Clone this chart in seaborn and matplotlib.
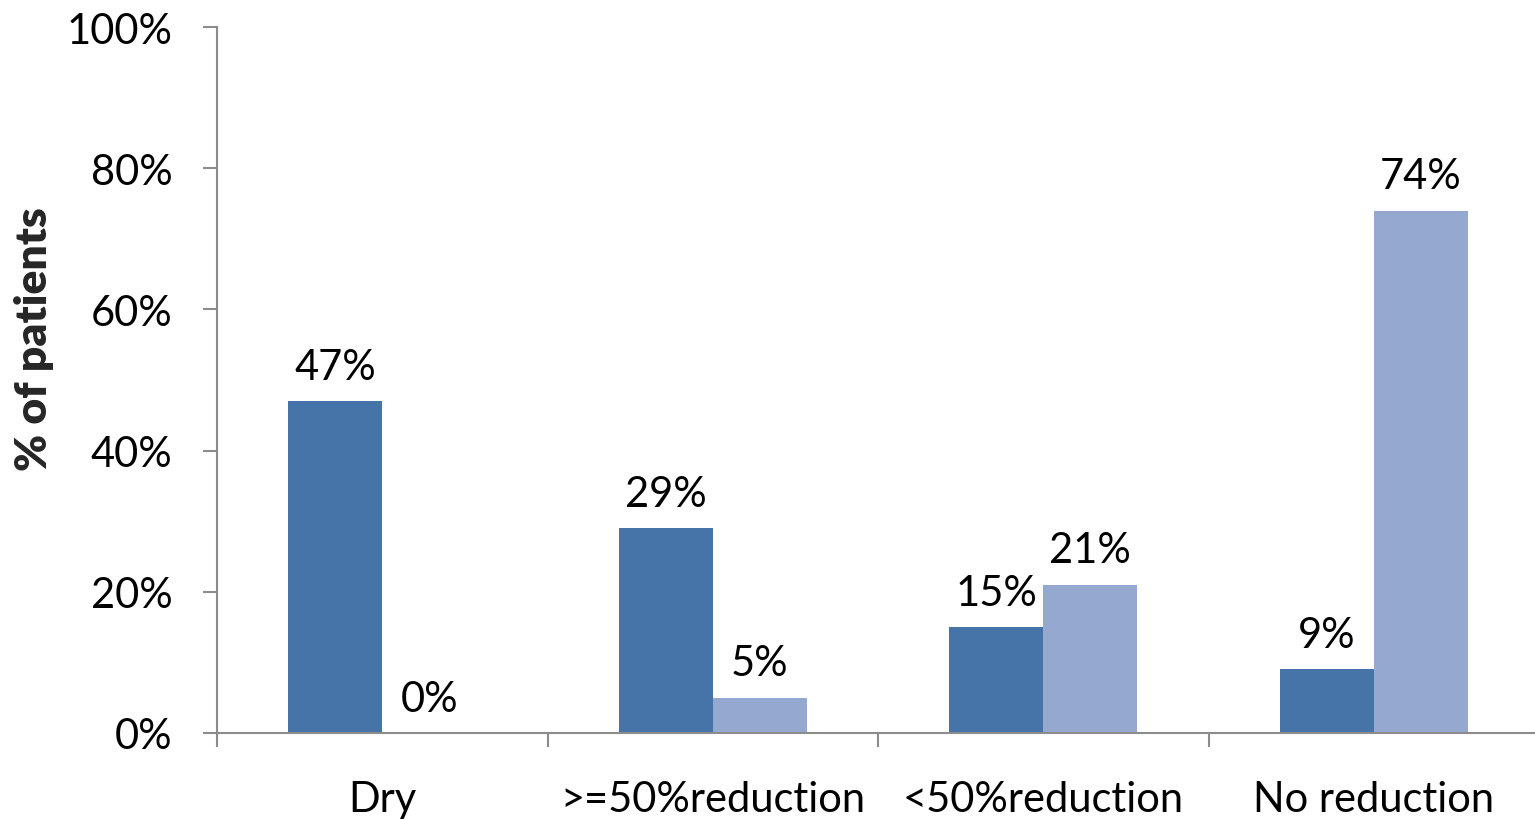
import matplotlib
matplotlib.use("Agg")
import matplotlib.pyplot as plt
from matplotlib.ticker import FixedLocator, PercentFormatter
import seaborn as sns
import pandas as pd

categories = ["Dry", ">=50%reduction", "<50%reduction", "No reduction"]
series_names = ["Group A", "Group B"]
group_a = [47, 29, 15, 9]
group_b = [0, 5, 21, 74]
y_ticks = [0, 20, 40, 60, 80, 100]

df = pd.DataFrame({
    "category": categories * 2,
    "series": [series_names[0]] * 4 + [series_names[1]] * 4,
    "value": group_a + group_b,
})

sns.set_theme(style="white")
plt.rcParams["font.family"] = ["Lato", "DejaVu Sans"]
FS = 30

fig = plt.figure(figsize=(15.35, 8.2), dpi=100)
ax = fig.add_axes([217 / 1535, 86 / 820, 1322 / 1535, 706 / 820])

palette = {series_names[0]: "#4674A8", series_names[1]: "#95A9D0"}
sns.barplot(data=df, x="category", y="value", hue="series", order=categories,
            hue_order=series_names, palette=palette, width=0.57, gap=0,
            saturation=1, ax=ax, legend=False)

for p in ax.patches:
    p.set_edgecolor("none")

for cont in ax.containers:
    ax.bar_label(cont, labels=[f"{v:.0f}%" for v in cont.datavalues],
                 padding=11, fontsize=FS, color="black")

ax.set_ylim(0, 100)
ax.set_xlim(-0.5, 3.5)
ax.yaxis.set_major_locator(FixedLocator(y_ticks))
ax.yaxis.set_major_formatter(PercentFormatter(decimals=0))

# category labels sit at bar-group centres; small ticks mark group boundaries
ax.xaxis.set_minor_locator(FixedLocator([-0.5, 0.5, 1.5, 2.5, 3.5]))
ax.tick_params(axis="x", which="major", length=0, pad=34, labelsize=FS,
               labelcolor="black")
ax.tick_params(axis="x", which="minor", length=10, width=1.5,
               color="#8C8C8C", direction="out", bottom=True)
ax.tick_params(axis="y", which="major", length=10, width=1.5,
               color="#8C8C8C", direction="out", left=True, pad=22,
               labelsize=FS, labelcolor="black")

for side in ["top", "right"]:
    ax.spines[side].set_visible(False)
for side in ["left", "bottom"]:
    ax.spines[side].set_color("#8C8C8C")
    ax.spines[side].set_linewidth(1.5)

ax.set_xlabel("")
ax.set_ylabel("% of patients", fontsize=32, fontweight="heavy")
ax.yaxis.set_label_coords(-0.1235, 0.56)

fig.savefig("out.png", dpi=100)
